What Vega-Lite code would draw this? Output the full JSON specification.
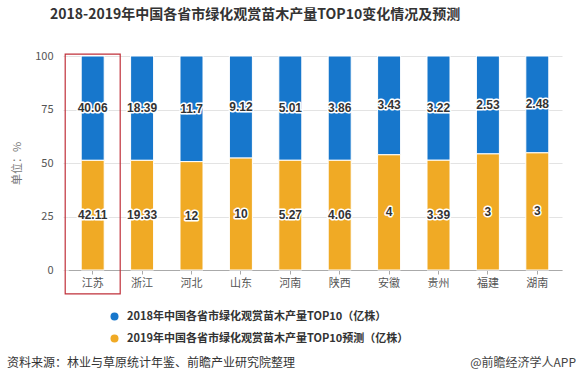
{
  "$schema": "https://vega.github.io/schema/vega-lite/v6.json",
  "width": 494,
  "height": 214,
  "autosize": "none",
  "padding": {"left": 68, "top": 56, "right": 14, "bottom": 116},
  "background": "white",
  "title": {
    "text": "2018-2019年中国各省市绿化观赏苗木产量TOP10变化情况及预测",
    "anchor": "start",
    "frame": "group",
    "dx": -18,
    "offset": 28,
    "fontSize": 14,
    "fontWeight": "bold",
    "font": "Noto Sans CJK SC",
    "color": "#333333"
  },
  "config": {"view": {"stroke": null}, "font": "Noto Sans CJK SC"},
  "resolve": {"axis": {"x": "independent", "y": "independent"}},
  "data": {
    "values": [
      {"province": "江苏", "series": "2018年中国各省市绿化观赏苗木产量TOP10（亿株）", "value": 40.06},
      {"province": "江苏", "series": "2019年中国各省市绿化观赏苗木产量TOP10预测（亿株）", "value": 42.11},
      {"province": "浙江", "series": "2018年中国各省市绿化观赏苗木产量TOP10（亿株）", "value": 18.39},
      {"province": "浙江", "series": "2019年中国各省市绿化观赏苗木产量TOP10预测（亿株）", "value": 19.33},
      {"province": "河北", "series": "2018年中国各省市绿化观赏苗木产量TOP10（亿株）", "value": 11.7},
      {"province": "河北", "series": "2019年中国各省市绿化观赏苗木产量TOP10预测（亿株）", "value": 12},
      {"province": "山东", "series": "2018年中国各省市绿化观赏苗木产量TOP10（亿株）", "value": 9.12},
      {"province": "山东", "series": "2019年中国各省市绿化观赏苗木产量TOP10预测（亿株）", "value": 10},
      {"province": "河南", "series": "2018年中国各省市绿化观赏苗木产量TOP10（亿株）", "value": 5.01},
      {"province": "河南", "series": "2019年中国各省市绿化观赏苗木产量TOP10预测（亿株）", "value": 5.27},
      {"province": "陕西", "series": "2018年中国各省市绿化观赏苗木产量TOP10（亿株）", "value": 3.86},
      {"province": "陕西", "series": "2019年中国各省市绿化观赏苗木产量TOP10预测（亿株）", "value": 4.06},
      {"province": "安徽", "series": "2018年中国各省市绿化观赏苗木产量TOP10（亿株）", "value": 3.43},
      {"province": "安徽", "series": "2019年中国各省市绿化观赏苗木产量TOP10预测（亿株）", "value": 4},
      {"province": "贵州", "series": "2018年中国各省市绿化观赏苗木产量TOP10（亿株）", "value": 3.22},
      {"province": "贵州", "series": "2019年中国各省市绿化观赏苗木产量TOP10预测（亿株）", "value": 3.39},
      {"province": "福建", "series": "2018年中国各省市绿化观赏苗木产量TOP10（亿株）", "value": 2.53},
      {"province": "福建", "series": "2019年中国各省市绿化观赏苗木产量TOP10预测（亿株）", "value": 3},
      {"province": "湖南", "series": "2018年中国各省市绿化观赏苗木产量TOP10（亿株）", "value": 2.48},
      {"province": "湖南", "series": "2019年中国各省市绿化观赏苗木产量TOP10预测（亿株）", "value": 3}
    ]
  },
  "layer": [
    {
      "transform": [
        {"stack": "value", "groupby": ["province"], "sort": [{"field": "series", "order": "descending"}], "offset": "normalize", "as": ["v0", "v1"]},
        {"calculate": "(datum.v0 + datum.v1) / 2", "as": "mid"}
      ],
      "resolve": {"axis": {"x": "independent", "y": "independent"}},
      "layer": [
        {
          "mark": {"type": "bar", "width": 23, "stroke": "white", "strokeWidth": 1},
          "encoding": {
            "x": {
              "field": "province", "type": "nominal",
              "scale": {"domain": ["江苏", "浙江", "河北", "山东", "河南", "陕西", "安徽", "贵州", "福建", "湖南"], "paddingInner": 0, "paddingOuter": 0},
              "axis": {
                "title": null, "labelAngle": 0, "labelFontSize": 11, "labelColor": "#555555",
                "tickSize": 4, "tickColor": "#aaaaaa", "domainColor": "#aaaaaa", "labelPadding": 3, "grid": false
              }
            },
            "y": {
              "field": "v1", "type": "quantitative", "scale": {"domain": [0, 1]},
              "axis": {
                "title": "单位：%", "titleFontSize": 11, "titleFontWeight": "normal", "titleColor": "#777777", "titlePadding": 12,
                "values": [0, 0.25, 0.5, 0.75, 1], "labelExpr": "round(datum.value * 100) + ''",
                "labelFontSize": 11, "labelColor": "#555555", "labelPadding": 10,
                "tickSize": 5, "tickColor": "#e3e3e3", "domain": false, "gridColor": "#e3e3e3"
              }
            },
            "y2": {"field": "v0"},
            "color": {
              "field": "series", "type": "nominal",
              "scale": {"range": ["#1777cc", "#f0aa25"]},
              "legend": {
                "orient": "none", "legendX": 41, "legendY": 255, "direction": "vertical", "title": null,
                "symbolType": "circle", "symbolSize": 64, "symbolStrokeWidth": 0,
                "labelFontSize": 11, "labelFontWeight": "bold", "labelColor": "#333333", "labelLimit": 400,
                "rowPadding": 10, "padding": 0, "labelOffset": 7
              }
            }
          }
        },
        {
          "mark": {"type": "text", "fontSize": 12, "fontWeight": "bold", "font": "Liberation Sans", "stroke": "white", "strokeWidth": 3, "strokeJoin": "round", "fill": "white", "baseline": "middle"},
          "encoding": {
            "x": {"field": "province", "type": "nominal", "scale": {"domain": ["江苏", "浙江", "河北", "山东", "河南", "陕西", "安徽", "贵州", "福建", "湖南"]}, "axis": null},
            "y": {"field": "mid", "type": "quantitative", "axis": null},
            "text": {"field": "value", "type": "nominal"}
          }
        },
        {
          "mark": {"type": "text", "fontSize": 12, "fontWeight": "bold", "font": "Liberation Sans", "fill": "#333333", "baseline": "middle"},
          "encoding": {
            "x": {"field": "province", "type": "nominal", "scale": {"domain": ["江苏", "浙江", "河北", "山东", "河南", "陕西", "安徽", "贵州", "福建", "湖南"]}, "axis": null},
            "y": {"field": "mid", "type": "quantitative", "axis": null},
            "text": {"field": "value", "type": "nominal"}
          }
        }
      ]
    },
    {
      "data": {"values": [{"province": "江苏"}]},
      "mark": {"type": "bar", "width": 55, "fill": "white", "fillOpacity": 0, "stroke": "#c0303a", "strokeWidth": 1.2},
      "encoding": {
        "x": {"field": "province", "type": "nominal", "scale": {"domain": ["江苏", "浙江", "河北", "山东", "河南", "陕西", "安徽", "贵州", "福建", "湖南"]}, "axis": null},
        "y": {"datum": 1.009, "type": "quantitative", "axis": null},
        "y2": {"datum": -0.112}
      }
    },
    {
      "data": {"values": [{"note": "资料来源：林业与草原统计年鉴、前瞻产业研究院整理"}]},
      "mark": {"type": "text", "fontSize": 12, "color": "#333333", "align": "left", "baseline": "middle", "dx": -85.7},
      "encoding": {
        "x": {"datum": "江苏", "type": "nominal", "scale": {"domain": ["江苏", "浙江", "河北", "山东", "河南", "陕西", "安徽", "贵州", "福建", "湖南"]}, "axis": null},
        "y": {"datum": -0.435, "type": "quantitative", "axis": null},
        "text": {"field": "note", "type": "nominal"}
      }
    },
    {
      "data": {"values": [{"note": "@前瞻经济学人APP"}]},
      "mark": {"type": "text", "fontSize": 12, "color": "#444444", "align": "right", "baseline": "middle", "dx": 38.7},
      "encoding": {
        "x": {"datum": "湖南", "type": "nominal", "scale": {"domain": ["江苏", "浙江", "河北", "山东", "河南", "陕西", "安徽", "贵州", "福建", "湖南"]}, "axis": null},
        "y": {"datum": -0.435, "type": "quantitative", "axis": null},
        "text": {"field": "note", "type": "nominal"}
      }
    }
  ]
}
